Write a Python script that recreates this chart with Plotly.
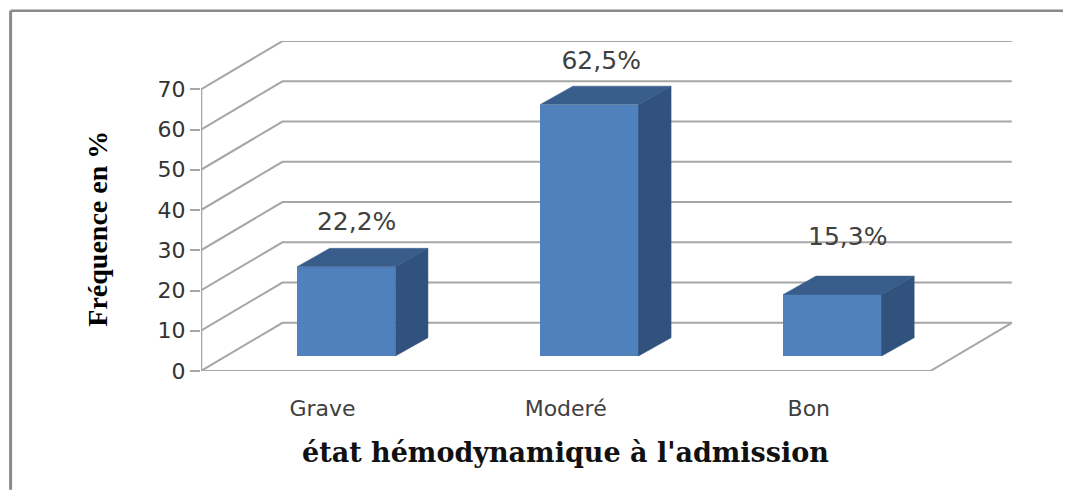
import plotly.graph_objects as go

categories = ["Grave", "Moderé", "Bon"]
values = [22.2, 62.5, 15.3]
value_labels = ["22,2%", "62,5%", "15,3%"]
y_ticks = [0, 10, 20, 30, 40, 50, 60, 70]

# Oblique projection of the pseudo-3D box, in axis units
WALL_DX, WALL_DY = 0.335, 11.98
BAR_OFF_X, BAR_BASE = 0.0975, 3.72
BAR_W = 0.404
BAR_DX, BAR_DY = 0.134, 4.56
LABEL_DX = [0.14, 0.146, 0.16]
LABEL_DY = [14.3, 14.2, 17.5]
GRID = "#a6a6a6"
FRAME = "#8a8a8a"
FRONT, TOP, SIDE = "#4f81bd", "#385d8a", "#30527c"
XR = [-0.5, 2.844]
YR = [0, 82]

fig = go.Figure()

# gridlines on the base axes, so the overlaid bars hide them
for t in y_ticks:
    fig.add_trace(go.Scatter(
        x=[-0.5, -0.5 + WALL_DX, 2.5 + WALL_DX], y=[t, t + WALL_DY, t + WALL_DY],
        mode="lines", line=dict(color=GRID, width=2), hoverinfo="skip",
        showlegend=False, cliponaxis=False))
fig.add_trace(go.Scatter(
    x=[-0.5, 2.5, 2.5 + WALL_DX], y=[0, 0, WALL_DY],
    mode="lines", line=dict(color=GRID, width=2), hoverinfo="skip",
    showlegend=False, cliponaxis=False))
fig.add_trace(go.Scatter(
    x=[-0.5, -0.5], y=[0, 70],
    mode="lines", line=dict(color=GRID, width=2.5), hoverinfo="skip",
    showlegend=False, cliponaxis=False))

for i, v in enumerate(values):
    x0 = i + BAR_OFF_X - BAR_W / 2
    x1 = i + BAR_OFF_X + BAR_W / 2
    y0 = BAR_BASE
    y1 = BAR_BASE + v
    fig.add_trace(go.Scatter(
        x=[x1, x1 + BAR_DX, x1 + BAR_DX, x1, x1], y=[y0, y0 + BAR_DY, y1 + BAR_DY, y1, y0],
        fill="toself", fillcolor=SIDE, mode="lines", line=dict(color=SIDE, width=0.5),
        hoverinfo="skip", showlegend=False, xaxis="x2", yaxis="y2"))
    fig.add_trace(go.Scatter(
        x=[x0, x1, x1 + BAR_DX, x0 + BAR_DX, x0], y=[y1, y1, y1 + BAR_DY, y1 + BAR_DY, y1],
        fill="toself", fillcolor=TOP, mode="lines", line=dict(color=TOP, width=0.5),
        hoverinfo="skip", showlegend=False, xaxis="x2", yaxis="y2"))

fig.add_trace(go.Bar(
    x=[i + BAR_OFF_X for i in range(len(categories))], y=values, base=BAR_BASE,
    width=BAR_W, marker=dict(color=FRONT, line=dict(width=0)), showlegend=False,
    xaxis="x2", yaxis="y2"))

fig.add_trace(go.Scatter(
    x=[i + d for i, d in enumerate(LABEL_DX)],
    y=[v + o for v, o in zip(values, LABEL_DY)],
    mode="text", text=value_labels, textposition="middle center",
    textfont=dict(family="DejaVu Sans", size=25, color="#404040"),
    hoverinfo="skip", showlegend=False, xaxis="x2", yaxis="y2"))

fig.update_layout(
    width=1063, height=482,
    margin=dict(l=192.5, r=57, t=32.7, b=119, autoexpand=False),
    paper_bgcolor="white", plot_bgcolor="white",
    bargap=0, showlegend=False,
    xaxis=dict(range=XR, tickmode="array", tickvals=[0, 1, 2], ticktext=categories,
               showgrid=False, zeroline=False, showline=False,
               ticks="outside", ticklen=18, tickcolor="rgba(0,0,0,0)",
               tickfont=dict(family="DejaVu Sans", size=22, color="#404040")),
    yaxis=dict(range=YR, tickmode="array", tickvals=y_ticks,
               showgrid=False, zeroline=False, showline=False,
               ticks="outside", ticklen=10, tickcolor=GRID, tickwidth=2,
               tickfont=dict(family="DejaVu Sans", size=22, color="#333333")),
    xaxis2=dict(range=XR, overlaying="x", visible=False),
    yaxis2=dict(range=YR, overlaying="y", visible=False),
    shapes=[
        dict(type="line", xref="paper", yref="paper", x0=-0.2342, x1=-0.2342, y0=-0.36, y1=1.0914,
             line=dict(color=FRAME, width=3)),
        dict(type="line", xref="paper", yref="paper", x0=-0.2342, x1=1.1, y0=1.0914, y1=1.0914,
             line=dict(color=FRAME, width=2.5)),
    ],
    annotations=[
        dict(text="<b>Fréquence en %</b>", xref="paper", yref="paper", x=-0.1272, y=0.43,
             xanchor="center", yanchor="middle", textangle=-90, showarrow=False,
             font=dict(family="Liberation Serif", size=28, color="#000000")),
        dict(text="<b>état hémodynamique à l'admission</b>", xref="paper", yref="paper", x=0.448, y=-0.248,
             xanchor="center", yanchor="middle", showarrow=False,
             font=dict(family="DejaVu Serif", size=27, color="#111111")),
    ],
)

fig.write_html("out.html")
